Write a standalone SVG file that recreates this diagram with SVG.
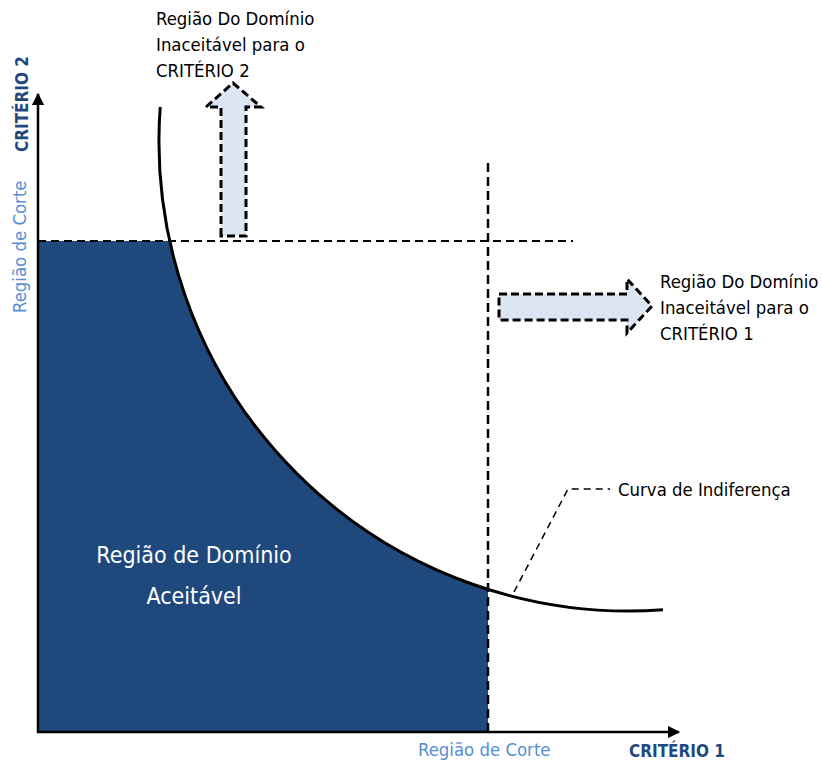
<svg xmlns="http://www.w3.org/2000/svg" width="822" height="762" viewBox="0 0 822 762">
  <style>
    .lbl { font-family: "DejaVu Sans Condensed", "DejaVu Sans", sans-serif; font-size: 18.4px; fill: #000; }
    .cut { font-family: "DejaVu Sans Condensed", "DejaVu Sans", sans-serif; font-size: 18.4px; fill: #558ed5; }
    .axisname { font-family: "DejaVu Sans Condensed", "DejaVu Sans", sans-serif; font-size: 17px; font-weight: bold; fill: #1f497d; }
    .inside { font-family: "DejaVu Sans Condensed", "DejaVu Sans", sans-serif; font-size: 23px; fill: #fff; }
    .axis { stroke: #000; stroke-width: 2.5; fill: none; }
    .cutline { stroke: #000; stroke-width: 2; stroke-dasharray: 8 5; fill: none; }
    .cutline.v { stroke-width: 2.5; stroke-dasharray: 9 5; }
    .bigarrow { fill: #dce6f2; stroke: #000; stroke-width: 3; stroke-dasharray: 8 4; stroke-linejoin: miter; }
    .curve { stroke: #000; stroke-width: 3; fill: none; }
    .leader { stroke: #000; stroke-width: 1.5; stroke-dasharray: 7 5; fill: none; }
  </style>
  <defs>
    <marker id="axisHead" viewBox="0 0 10 10" refX="9" refY="5" markerWidth="5" markerHeight="5" orient="auto">
      <path d="M0,0 L10,5 L0,10 Z" fill="#000"/>
    </marker>
  </defs>

  <rect width="822" height="762" fill="#fff"/>

  <!-- acceptable region: below both cut-offs and under the indifference curve
       (curve = circular arc, centre 629,141, radius 470) -->
  <g id="acceptable-region">
    <path fill="#1f497d" d="M38,241 L169.8,241 A470,470 0 0 0 488,589.4 L488,732 L38,732 Z"/>
    <text class="inside" x="194" y="563" text-anchor="middle">Região de Domínio</text>
    <text class="inside" x="194" y="604" text-anchor="middle">Aceitável</text>
  </g>

  <!-- axes -->
  <g id="axes">
    <line class="axis" x1="38" y1="733" x2="38" y2="94" marker-end="url(#axisHead)"/>
    <line class="axis" x1="37" y1="732" x2="679" y2="732" marker-end="url(#axisHead)"/>
    <text class="axisname" x="629" y="757">CRITÉRIO 1</text>
    <text class="axisname" transform="translate(28,152) rotate(-90)">CRITÉRIO 2</text>
    <text class="cut" x="418" y="756">Região de Corte</text>
    <text class="cut" transform="translate(26,313) rotate(-90)">Região de Corte</text>
  </g>

  <!-- cut-off lines and label leader -->
  <g id="connectors">
    <line class="cutline" x1="38" y1="241" x2="573" y2="241"/>
    <line class="cutline v" x1="488" y1="163" x2="488" y2="732"/>
    <polyline class="leader" points="514,592 568,489 610,489"/>
  </g>

  <!-- indifference curve -->
  <g id="indifference-curve">
    <path class="curve" d="M160.2,107 A470,470 0 0 0 663,609.8"/>
    <text class="lbl" x="618" y="496">Curva de Indiferença</text>
  </g>

  <!-- unacceptable region for criterion 2 -->
  <g id="unacceptable-2">
    <path class="bigarrow" d="M221,236 L221,107 L206,107 L233,83 L261,107 L246,107 L246,236 Z"/>
    <text class="lbl" x="156" y="25">Região Do Domínio</text>
    <text class="lbl" x="156" y="51">Inaceitável para o</text>
    <text class="lbl" x="156" y="77">CRITÉRIO 2</text>
  </g>

  <!-- unacceptable region for criterion 1 -->
  <g id="unacceptable-1">
    <path class="bigarrow" d="M499,294 L627,294 L627,279 L652,306 L627,333 L627,320 L499,320 Z"/>
    <text class="lbl" x="660" y="288">Região Do Domínio</text>
    <text class="lbl" x="660" y="314">Inaceitável para o</text>
    <text class="lbl" x="660" y="340">CRITÉRIO 1</text>
  </g>
</svg>
